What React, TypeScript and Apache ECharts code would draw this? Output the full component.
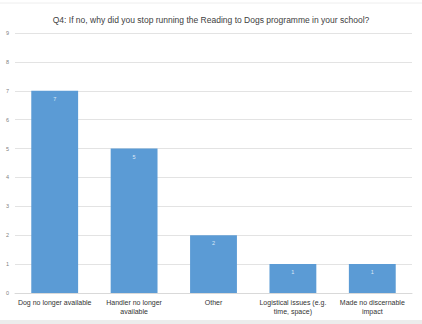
import React, { useEffect, useRef } from "react";
import * as echarts from "echarts";

const title = "Q4: If no, why did you stop running the Reading to Dogs programme in your school?";
const categories = [
  "Dog no longer available",
  "Handler no longer\navailable",
  "Other",
  "Logistical issues (e.g.\ntime, space)",
  "Made no discernable\nimpact",
];
const counts = [7, 5, 2, 1, 1];
const yMax = 9;

export default function App() {
  const ref = useRef<HTMLDivElement>(null);

  useEffect(() => {
    if (!ref.current) return;
    const chart = echarts.init(ref.current, undefined, { renderer: "svg" });
    chart.setOption({
      animation: false,
      backgroundColor: "#ffffff",
      textStyle: { fontFamily: "Liberation Sans, Arial, sans-serif" },
      title: {
        text: title,
        left: "center",
        top: 10,
        textStyle: { fontSize: 8.5, fontWeight: "normal", color: "#404040" },
      },
      grid: { left: 15, right: 10, top: 33, bottom: 31 },
      xAxis: {
        type: "category",
        data: categories,
        axisLine: { lineStyle: { color: "#d9d9d9" } },
        axisTick: { show: false },
        axisLabel: {
          interval: 0,
          color: "#333333",
          fontSize: 7,
          lineHeight: 9,
          margin: 5,
        },
      },
      yAxis: {
        type: "value",
        min: 0,
        max: yMax,
        interval: 1,
        axisLine: { show: false },
        axisTick: { show: false },
        axisLabel: { color: "#7f7f7f", fontSize: 5.5, margin: 6 },
        splitLine: { lineStyle: { color: "#e3e3e3", width: 1 } },
      },
      series: [
        {
          type: "bar",
          data: counts,
          barWidth: "59%",
          itemStyle: { color: "#5b9bd5" },
          label: {
            show: true,
            position: "insideTop",
            distance: 5,
            color: "#dce9f6",
            fontSize: 5.5,
          },
        },
      ],
      graphic: [
        {
          type: "line",
          shape: { x1: 0, y1: 3, x2: 422, y2: 3 },
          style: { stroke: "#eeeeee", lineWidth: 1 },
        },
        {
          type: "rect",
          shape: { x: 0, y: 320, width: 422, height: 4 },
          style: { fill: "#ececec" },
        },
      ],
    });
    return () => chart.dispose();
  }, []);

  return <div ref={ref} style={{ width: 422, height: 324, position: "absolute", left: 0, top: 0 }} />;
}
